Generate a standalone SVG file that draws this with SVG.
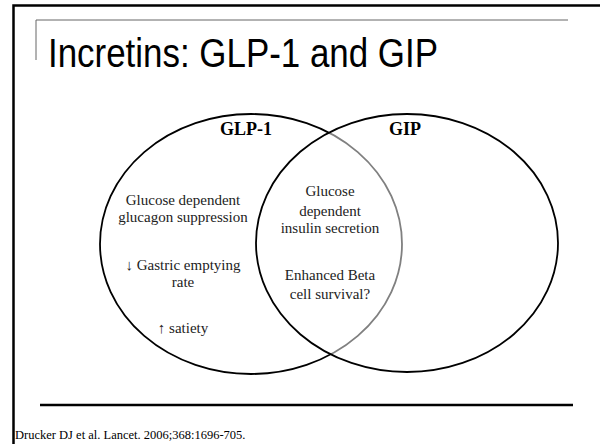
<svg xmlns="http://www.w3.org/2000/svg" width="600" height="444" viewBox="0 0 600 444">
<style>
.t{font-family:"Liberation Serif","Times New Roman",serif;font-size:15px;fill:#222;text-anchor:middle}
.h{font-family:"Liberation Serif","Times New Roman",serif;font-size:18px;font-weight:bold;fill:#000;text-anchor:middle}
</style>
<rect width="600" height="444" fill="#fff"/>
<g id="frame" fill="none">
<path d="M13.5 444 V5.5 H600" stroke="#000" stroke-width="2.5"/>
<path d="M36 60 V20 H568" stroke="#666" stroke-width="1"/>
<line x1="40" y1="405" x2="573" y2="405" stroke="#000" stroke-width="2.5"/>
</g>
<text x="48" y="67" font-family="Liberation Sans, Arial, sans-serif" font-size="40" fill="#000" textLength="390" lengthAdjust="spacingAndGlyphs">Incretins: GLP-1 and GIP</text>
<g id="glp1">
<ellipse cx="251" cy="244" rx="151" ry="130" fill="none" stroke="#000" stroke-width="1.8"/>
<text class="h" x="246" y="135">GLP-1</text>
<text class="t" x="183" y="205">Glucose dependent</text>
<text class="t" x="183" y="222">glucagon suppression</text>
<text class="t" x="183" y="270">↓ Gastric emptying</text>
<text class="t" x="183" y="287">rate</text>
<text class="t" x="183" y="333">↑ satiety</text>
</g>
<g id="gip">
<ellipse cx="407" cy="243" rx="151" ry="129" fill="#fff" fill-opacity="0.5" stroke="#000" stroke-width="1.8"/>
<text class="h" x="405" y="135">GIP</text>
</g>
<g id="overlap">
<text class="t" x="330" y="196">Glucose</text>
<text class="t" x="330" y="216">dependent</text>
<text class="t" x="330" y="233">insulin secretion</text>
<text class="t" x="330" y="280">Enhanced Beta</text>
<text class="t" x="330" y="299">cell survival?</text>
</g>
<text x="15" y="439" font-family="Liberation Serif, Times New Roman, serif" font-size="12.5" fill="#000">Drucker DJ et al. Lancet. 2006;368:1696-705.</text>
</svg>
